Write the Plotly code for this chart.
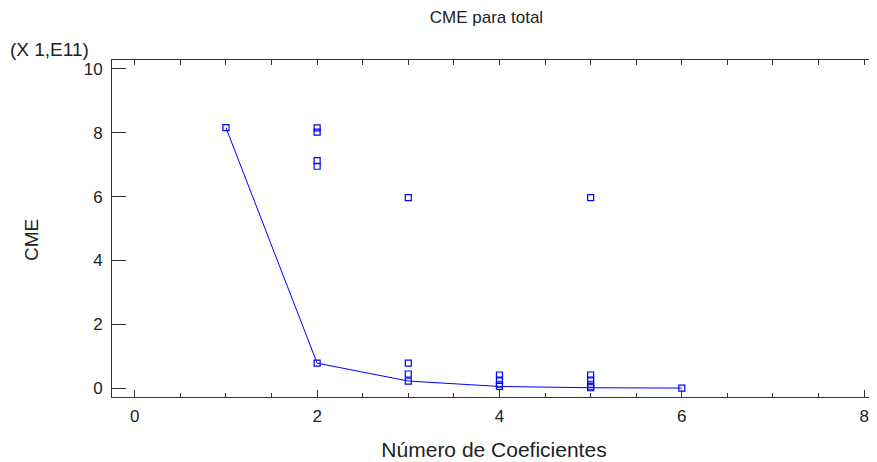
import plotly.graph_objects as go

# Data (CME in units of 1E11)
pts_x = [1, 2, 2, 2, 2, 2, 3, 3, 3, 3, 4, 4, 4, 4, 5, 5, 5, 5, 5, 5, 6]
pts_y = [8.16, 8.15, 8.02, 7.13, 6.95, 0.78, 5.97, 0.78, 0.44, 0.22,
         0.41, 0.25, 0.12, 0.05, 5.97, 0.41, 0.25, 0.12, 0.04, 0.01, 0.0]
best_x = [1, 2, 3, 4, 5, 6]
best_y = [8.16, 0.78, 0.22, 0.05, 0.01, 0.0]
x_ticks = [0, 2, 4, 6, 8]
y_ticks = [0, 2, 4, 6, 8, 10]

blue = "#0000ff"
font = "Liberation Sans, Arial, sans-serif"
xr = [-0.25, 8.13]
yr = [-0.28, 10.28]

fig = go.Figure()
fig.add_trace(go.Scatter(x=best_x, y=best_y, mode="lines",
                         line=dict(color=blue, width=1), showlegend=False))
fig.add_trace(go.Scatter(x=pts_x, y=pts_y, mode="markers",
                         marker=dict(symbol="square-open", size=6, color=blue,
                                     line=dict(width=1.2, color=blue)),
                         showlegend=False))
fig.add_trace(go.Scatter(x=[None], y=[None], xaxis="x2", yaxis="y2",
                         showlegend=False, hoverinfo="skip"))

# page body has an 8px margin, so the figure is sized 8px smaller each way
fig.update_layout(
    width=869, height=454,
    margin=dict(l=104, r=1, t=52, b=65, autoexpand=False),
    paper_bgcolor="white", plot_bgcolor="white",
    font=dict(family=font, color="#222", size=17),
    title=dict(text="CME para total", x=0.5506, xanchor="center", y=0.980,
               yanchor="middle", font=dict(size=17, family=font, color="#222")),
    xaxis=dict(range=xr, tickvals=x_ticks, ticks="inside", ticklen=7, automargin=False,
               tickcolor="#333", showline=True, linecolor="#333", linewidth=1,
               showgrid=False, zeroline=False, ticklabelstandoff=4,
               minor=dict(dtick=0.5, ticks="inside", ticklen=4, tickcolor="#333", showgrid=False),
               title=dict(text="Número de Coeficientes", standoff=16,
                          font=dict(size=21, family=font))),
    yaxis=dict(range=yr, tickvals=y_ticks, ticks="inside", ticklen=14, automargin=False,
               tickcolor="#333", showline=True, linecolor="#333", linewidth=1,
               showgrid=False, zeroline=False, ticklabelstandoff=5),
    xaxis2=dict(range=xr, overlaying="x", side="top", anchor="y", dtick=0.5, tick0=0,
                automargin=False,
                ticks="inside", ticklen=5, tickcolor="#333", showticklabels=False,
                showline=True, linecolor="#333", linewidth=1, showgrid=False, zeroline=False),
    yaxis2=dict(range=yr, overlaying="y", side="right", anchor="x", tickvals=y_ticks,
                automargin=False,
                ticks="inside", ticklen=5, tickcolor="#333", showticklabels=False,
                showline=True, linecolor="#333", linewidth=1, showgrid=False, zeroline=False),
    annotations=[
        dict(text="(X 1,E11)", xref="paper", yref="paper", x=-0.136, y=1.0326,
             xanchor="left", yanchor="middle", showarrow=False,
             font=dict(size=19, family=font, color="#222")),
        dict(text="CME", xref="paper", yref="paper", x=-0.1047, y=0.4659,
             xanchor="center", yanchor="middle", textangle=-90, showarrow=False,
             font=dict(size=19, family=font, color="#222")),
    ],
)

fig.write_html("out.html")
